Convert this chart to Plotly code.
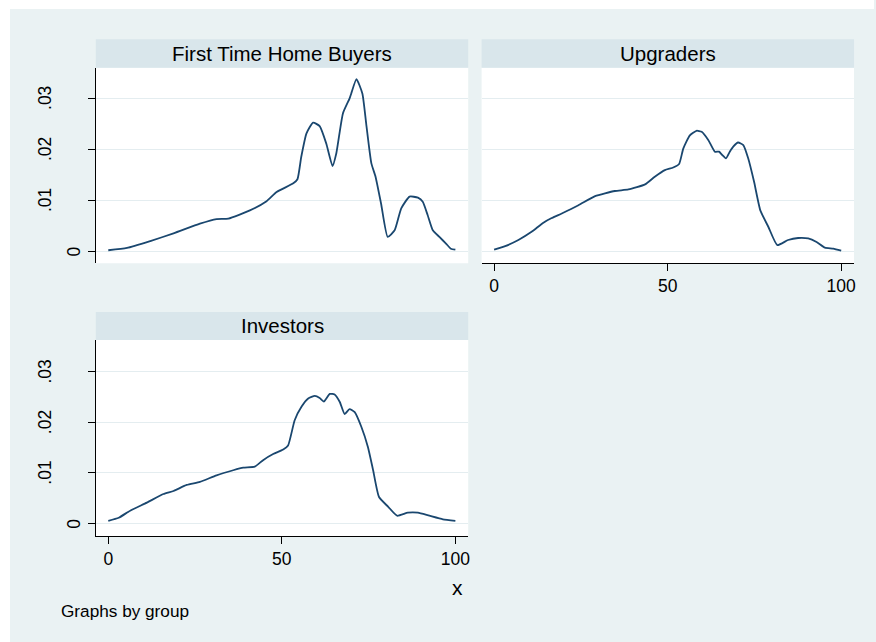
import plotly.graph_objects as go

# density curves, one per group
fthb_x = [0, 5.4, 12.1, 18.8, 26.4, 31.2, 34.6, 40.8, 45.6, 48.5, 53.3, 54.5, 55.6, 57.1, 59.0,
          60.9, 62.8, 64.6, 65.7, 67.6, 69.5, 70.0, 71.5, 73.2, 74.3, 75.8, 77.0, 78.6, 80.5,
          82.5, 84.4, 86.8, 89.2, 90.6, 92.0, 93.5, 95.4, 97.3, 98.7, 100]
fthb_y = [.0002, .00065, .002, .0035, .0054, .0063, .0064, .008, .0098, .0116, .0133, .0141,
          .0185, .0231, .0252, .0245, .0211, .0167, .0192, .0270, .0299, .0309, .0337, .0309,
          .0250, .0172, .0146, .0093, .0028, .0041, .0084, .0107, .0105, .0097, .0071, .0041,
          .0028, .0015, .0005, .0003]

upg_x = [0, 3.2, 7.0, 10.8, 14.2, 16.6, 19.5, 24.3, 29.1, 34.8, 38.7, 43.5, 46.3, 49.2, 51.6,
         53.3, 54.5, 56.4, 58.3, 59.8, 61.7, 63.6, 64.8, 65.5, 66.8, 67.9, 68.9, 70.3, 71.8,
         73.2, 74.9, 76.7, 79.0, 81.6, 84.7, 87.6, 90.5, 92.9, 95.3, 97.7, 100]
upg_y = [.0003, .001, .0022, .0038, .0056, .0065, .0074, .009, .0108, .0118, .0121, .0131,
         .0146, .0159, .0164, .0171, .0201, .0227, .0236, .0234, .0218, .0195, .0195, .019,
         .0182, .0195, .0205, .0213, .0208, .0182, .0136, .008, .0048, .0012, .0022, .0026,
         .0025, .0018, .0007, .0005, .0001]

inv_x = [0, 3.0, 6.3, 11.1, 15.9, 18.8, 22.6, 26.4, 31.2, 36.0, 38.9, 42.2, 44.6, 47.5, 50.4,
         51.8, 53.7, 55.7, 57.6, 59.5, 60.9, 62.1, 63.8, 65.2, 66.7, 68.1, 69.5, 71.0, 72.9,
         74.8, 76.3, 78.0, 80.6, 83.2, 86.3, 89.2, 92.5, 96.4, 100]
inv_y = [.0005, .0011, .0025, .0041, .0058, .0064, .0076, .0082, .0095, .0105, .011, .0112,
         .0125, .0137, .0146, .0154, .0204, .0231, .0247, .0252, .0248, .0241, .0256, .0255,
         .024, .0216, .0226, .022, .0191, .0151, .0105, .0052, .0033, .0015, .0021, .0021,
         .0015, .0008, .0005]

groups = ["First Time Home Buyers", "Upgraders", "Investors"]
y_ticks = [0, .01, .02, .03]
y_labels = ["0", ".01", ".02", ".03"]
x_ticks = [0, 50, 100]
x_labels = ["0", "50", "100"]

# body margin is removed below, so the figure fills the whole window
W, H = 876, 642
BG = "#EAF2F3"
STRIP = "#D9E6EB"
LINE = "#1A476F"
GRID = "#E4EDF0"
FONT = "Liberation Sans, Arial, sans-serif"


def px(x):
    return x / W


def py(y):
    return 1 - y / H


# panel boxes in window pixels: left, top, right, bottom
boxes = [(96, 67.7, 469.3, 263.3), (482.7, 67.7, 856, 263.3), (96, 340, 469.3, 536)]
strips = [(96, 39.3, 469.3, 67.7), (482.7, 39.3, 856, 67.7), (96, 312, 469.3, 340)]
yranges = [[-0.00236, 0.03595], [-0.00236, 0.03595], [-0.00251, 0.03627]]

fig = go.Figure()
for i, (xs, ys) in enumerate([(fthb_x, fthb_y), (upg_x, upg_y), (inv_x, inv_y)]):
    n = "" if i == 0 else str(i + 1)
    fig.add_trace(go.Scatter(x=xs, y=ys, mode="lines", xaxis="x" + n, yaxis="y" + n,
                             line=dict(color=LINE, width=1.8, shape="spline", smoothing=0.5),
                             showlegend=False, hoverinfo="skip"))

# white border on the left and top, the rest of the page is the graph-region colour
shapes = [dict(type="rect", xref="paper", yref="paper", x0=0, x1=px(10), y0=0, y1=1,
               fillcolor="white", line_width=0, layer="below"),
          dict(type="rect", xref="paper", yref="paper", x0=0, x1=1, y0=py(9), y1=1,
               fillcolor="white", line_width=0, layer="below")]
annotations = []
layout = {}
for i in range(3):
    n = "" if i == 0 else str(i + 1)
    l, t, r, b = boxes[i]
    shapes.append(dict(type="rect", xref="paper", yref="paper", x0=px(l), x1=px(r),
                       y0=py(b), y1=py(t), fillcolor="white", line_width=0, layer="below"))
    sl, st, sr, sb = strips[i]
    shapes.append(dict(type="rect", xref="paper", yref="paper", x0=px(sl), x1=px(sr),
                       y0=py(sb), y1=py(st), fillcolor=STRIP, line_width=0, layer="below"))
    annotations.append(dict(text=groups[i], xref="paper", yref="paper", x=px((sl + sr) / 2),
                            y=py((st + sb) / 2), showarrow=False, xanchor="center",
                            yanchor="middle", font=dict(size=20.5, color="black", family=FONT)))
    show_x = i > 0
    show_y = i != 1
    layout["xaxis" + n] = dict(domain=[px(l), px(r)], range=[-3.6, 103.7], anchor="y" + n,
                               showgrid=False, zeroline=False, visible=show_x,
                               showline=show_x, linecolor="black", linewidth=1,
                               ticks="outside" if show_x else "", ticklen=7, tickcolor="black",
                               tickvals=x_ticks, ticktext=x_labels, showticklabels=show_x,
                               tickfont=dict(size=17.5, color="black", family=FONT),
                               ticklabelstandoff=0)
    layout["yaxis" + n] = dict(domain=[py(b), py(t)], range=yranges[i], anchor="x" + n,
                               showgrid=True, gridcolor=GRID, gridwidth=1.2, zeroline=False,
                               showline=show_y, linecolor="black", linewidth=1,
                               ticks="outside" if show_y else "", ticklen=7, tickcolor="black",
                               tickvals=y_ticks, showticklabels=False)
    if show_y:
        for v, lab in zip(y_ticks, y_labels):
            cx = 74.5 if lab == "0" else 45
            annotations.append(dict(text=lab, xref="paper", yref="y" + n, x=px(cx), y=v,
                                    textangle=-90, showarrow=False, xanchor="center",
                                    yanchor="middle",
                                    font=dict(size=17.5, color="black", family=FONT)))

annotations.append(dict(text="x", xref="paper", yref="paper", x=px(458.5), y=py(587),
                        showarrow=False, xanchor="center", yanchor="middle",
                        font=dict(size=21, color="black", family=FONT)))
annotations.append(dict(text="Graphs by group", xref="paper", yref="paper", x=px(59),
                        y=py(611), showarrow=False, xanchor="left", yanchor="middle",
                        font=dict(size=17.2, color="black", family=FONT)))

fig.update_layout(width=W, height=H, margin=dict(l=0, r=0, t=0, b=0),
                  paper_bgcolor=BG, plot_bgcolor="rgba(0,0,0,0)",
                  shapes=shapes, annotations=annotations, **layout)

fig.write_html("out.html", config={"displayModeBar": False},
               post_script="document.body.style.margin='0';"
                           "document.body.style.overflow='hidden';"
                           "document.body.style.background='" + BG + "';")
